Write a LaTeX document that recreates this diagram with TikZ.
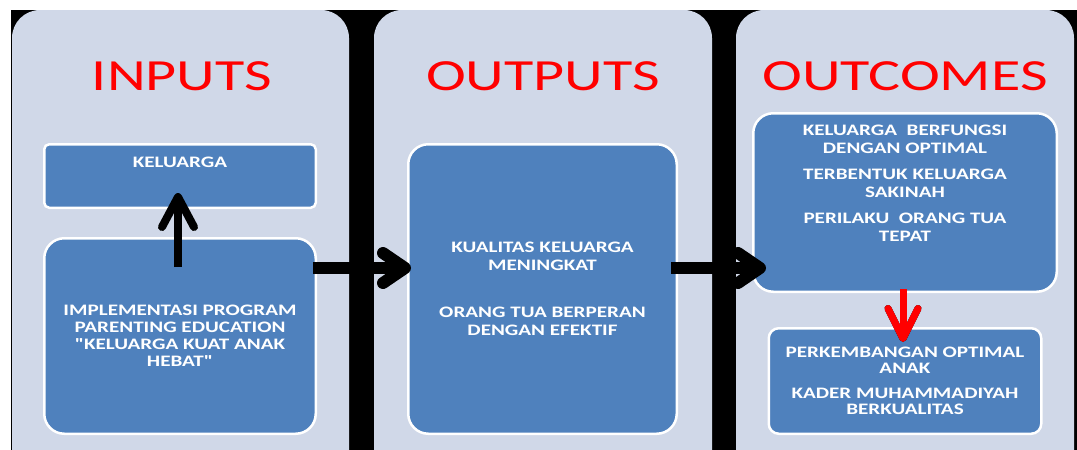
\documentclass[tikz,border=0pt]{standalone}
\usepackage{fontspec}
\setmainfont{Carlito}
\newfontfamily\judulfont[FakeStretch=1.35]{Carlito}
\newfontfamily\isifont[FakeStretch=1.32]{Carlito}
\usetikzlibrary{arrows.meta,calc,positioning}
\definecolor{panelabu}{RGB}{208,216,232}
\definecolor{kotakbiru}{RGB}{79,129,189}
\definecolor{judulmerah}{RGB}{255,0,0}

\begin{document}
\begin{tikzpicture}[x=1pt, y=-1pt,
        judul/.style={text=judulmerah, inner sep=0pt, anchor=base,
          font=\judulfont\fontsize{44.5}{44}\selectfont},
        kotak/.style={draw=white, line width=2.5pt, fill=kotakbiru, text=white,
          inner sep=0pt, align=center,
          font=\isifont\bfseries\fontsize{16}{18}\selectfont},
        panahhitam/.style={black, line width=12pt,
          -{Straight Barb[length=22pt, width=30pt, round]}},
        panahatas/.style={black, line width=8pt,
          -{Straight Barb[length=30pt, width=32pt, round]}},
        panahmerah/.style={line width=7pt,
          -{Straight Barb[length=30pt, width=30pt, round]}}]
        \useasboundingbox (0,0) rectangle (1077,450);
        \clip (0,0) rectangle (1077,450);
        \fill[white] (0,0) rectangle (1077,450);
        \fill[black] (11,10) rectangle (1077,450);
        % three panels
        \foreach \a/\b in {12/349, 374/712, 736/1074} {
          \fill[panelabu, rounded corners=28pt] (\a,10) rectangle (\b,490);
        };
        \node[judul] (inputs) at (182,90) {INPUTS};
        \node[judul] (outputs) at (543,90) {OUTPUTS};
        \node[judul] (outcomes) at (905,90) {OUTCOMES};
        % inputs
        \node[kotak, rounded corners=5pt, minimum width=271.5pt, minimum height=63.5pt]
          (kel) at (180,176) {\parbox[c][63pt][t]{260pt}{\centering\vspace*{13pt}KELUARGA}};
        \node[kotak, rounded corners=20pt, minimum width=271.5pt, minimum height=195.5pt,
          font=\isifont\bfseries\fontsize{16}{17}\selectfont]
          (impl) at (180,336) {IMPLEMENTASI PROGRAM\\PARENTING EDUCATION\\"KELUARGA KUAT ANAK\\HEBAT"};
        % outputs
        \node[kotak, rounded corners=20pt, minimum width=268.5pt, minimum height=289.5pt]
          (outp) at (542.5,289) {KUALITAS KELUARGA\\MENINGKAT\\[29pt]ORANG TUA BERPERAN\\DENGAN EFEKTIF};
        % outcomes
        \node[kotak, rounded corners=20pt, minimum width=303.5pt, minimum height=178.5pt]
          (outc1) at (905,202.5) {\parbox[c][176pt][t]{290pt}{\centering\vspace*{11pt}KELUARGA\ \ BERFUNGSI\\DENGAN OPTIMAL\\[8pt]TERBENTUK KELUARGA\\SAKINAH\\[8pt]PERILAKU\ \ ORANG TUA\\TEPAT}};
        \node[kotak, rounded corners=10pt, minimum width=272.5pt, minimum height=105.5pt,
          font=\isifont\bfseries\fontsize{16}{16.5}\selectfont]
          (outc2) at (905,381) {PERKEMBANGAN OPTIMAL\\ANAK\\[8pt]KADER MUHAMMADIYAH\\BERKUALITAS};
        % arrows
        \draw[panahatas] ($(impl.north)+(-2,30)$) -- ($(kel.south)+(-2,-16)$);
        \draw[panahhitam] ($(impl.east)+(-4,-68)$) -- ($(outp.west)+(4,-21)$);
        \draw[panahhitam] ($(outp.east)+(-7,-21)$) -- ($(outc1.west)+(14,65.5)$);
        \draw[panahmerah, black, shift={(-2.5,2.5)}] ($(outc1.south)+(-2,-4)$) -- ($(outc2.north)+(-2,15)$);
        \draw[panahmerah, judulmerah] ($(outc1.south)+(-2,-4)$) -- ($(outc2.north)+(-2,15)$);
      \end{tikzpicture}
\end{document}
